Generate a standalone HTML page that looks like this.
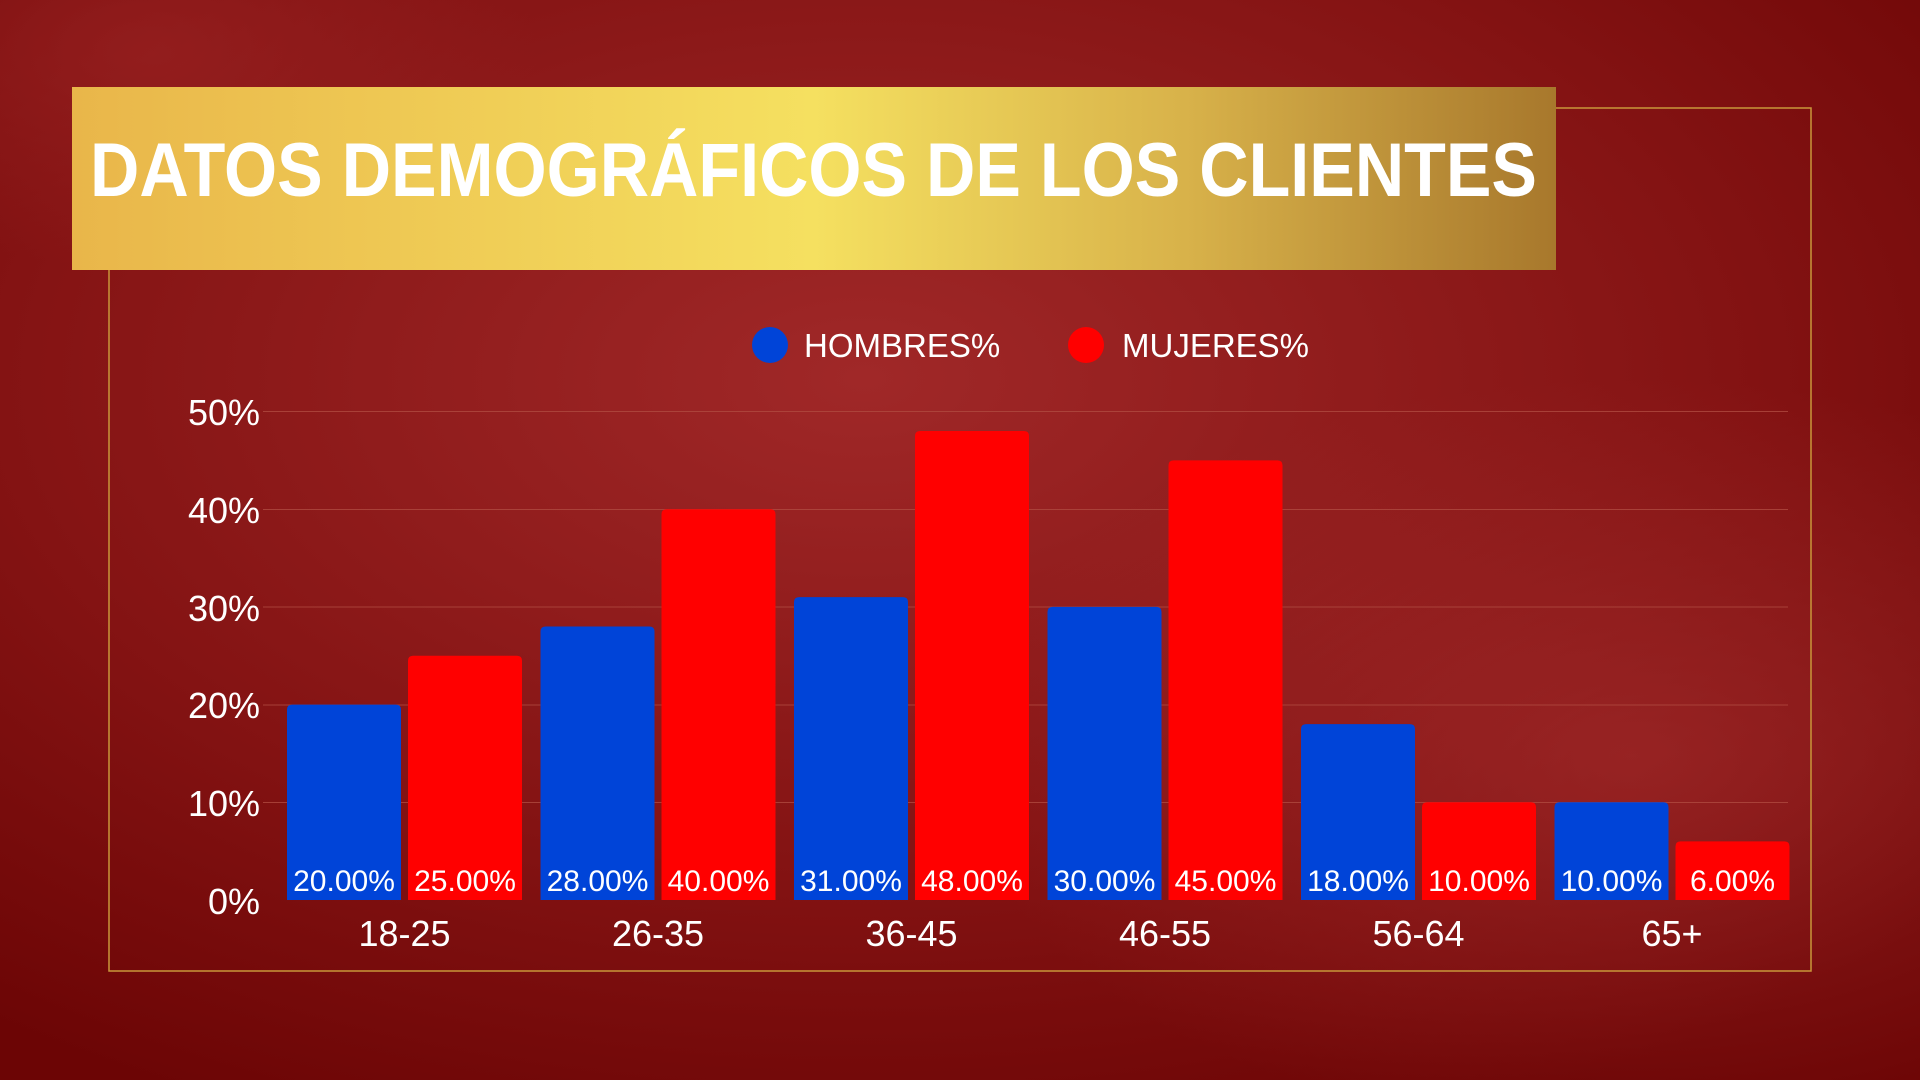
<!DOCTYPE html>
<html><head><meta charset="utf-8"><style>html,body{margin:0;padding:0;width:1920px;height:1080px;overflow:hidden;background:#7a0808}</style></head>
<body>
<svg width="1920" height="1080" viewBox="0 0 1920 1080" xmlns="http://www.w3.org/2000/svg" font-family="Liberation Sans, sans-serif">
<defs>
<radialGradient id="bg" cx="0.45" cy="0.35" r="0.75">
<stop offset="0" stop-color="#a02828"/><stop offset="0.6" stop-color="#841313"/><stop offset="1" stop-color="#6c0505"/>
</radialGradient>
<radialGradient id="bg2" cx="0.85" cy="0.7" r="0.35">
<stop offset="0" stop-color="#a83030" stop-opacity="0.6"/><stop offset="1" stop-color="#a83030" stop-opacity="0"/>
</radialGradient>
<radialGradient id="bg3" cx="0.08" cy="0.05" r="0.2">
<stop offset="0" stop-color="#9a2222" stop-opacity="0.7"/><stop offset="1" stop-color="#9a2222" stop-opacity="0"/>
</radialGradient>
<linearGradient id="gold" x1="0" x2="1" y1="0" y2="0">
<stop offset="0" stop-color="#e9b64a"/><stop offset="0.5" stop-color="#f5e060"/><stop offset="0.75" stop-color="#d8b24a"/><stop offset="1" stop-color="#a8782c"/>
</linearGradient>
</defs>
<rect width="1920" height="1080" fill="url(#bg)"/>
<rect width="1920" height="1080" fill="url(#bg2)"/>
<rect width="1920" height="1080" fill="url(#bg3)"/>
<rect x="109" y="108" width="1702" height="863" fill="none" stroke="#c9973a" stroke-width="1.5"/>
<rect x="72" y="87" width="1484" height="183" fill="url(#gold)"/>
<text x="90" y="196" font-size="76" font-weight="bold" fill="#fff" textLength="1447" lengthAdjust="spacingAndGlyphs">DATOS DEMOGRÁFICOS DE LOS CLIENTES</text>
<circle cx="770" cy="345" r="18" fill="#0044d8"/>
<text x="804" y="357" font-size="33" fill="#fff">HOMBRES%</text>
<circle cx="1086" cy="345" r="18" fill="#ff0000"/>
<text x="1122" y="357" font-size="33" fill="#fff">MUJERES%</text>
<g stroke="#b04a40" stroke-width="1" opacity="0.8">
<line x1="263" x2="1788" y1="411.5" y2="411.5"/>
<line x1="263" x2="1788" y1="509.5" y2="509.5"/>
<line x1="263" x2="1788" y1="607" y2="607"/>
<line x1="263" x2="1788" y1="705" y2="705"/>
<line x1="263" x2="1788" y1="802.5" y2="802.5"/>
</g>
<g font-size="36" fill="#fff" text-anchor="end">
<text x="260" y="425">50%</text>
<text x="260" y="523">40%</text>
<text x="260" y="621">30%</text>
<text x="260" y="718">20%</text>
<text x="260" y="816">10%</text>
<text x="260" y="914">0%</text>
</g>
<g id="bars"></g>
<g font-size="36" fill="#fff" text-anchor="middle" id="xl"></g>
<g font-size="30" fill="#fff" text-anchor="middle" id="vl"></g>
<script>
var H=[20,28,31,30,18,10],M=[25,40,48,45,10,6],L=["18-25","26-35","36-45","46-55","56-64","65+"];
var ns="http://www.w3.org/2000/svg",b=document.getElementById("bars"),xl=document.getElementById("xl"),vl=document.getElementById("vl");
function el(p,t,a,txt){var e=document.createElementNS(ns,t);for(var k in a)e.setAttribute(k,a[k]);if(txt)e.textContent=txt;p.appendChild(e);}
function bar(x,v,c){var h=v*9.77,y=900-h,w=114,r=5;
el(b,"path",{d:"M"+x+" 900V"+(y+r)+"Q"+x+" "+y+" "+(x+r)+" "+y+"H"+(x+w-r)+"Q"+(x+w)+" "+y+" "+(x+w)+" "+(y+r)+"V900Z",fill:c});
el(vl,"text",{x:x+w/2,y:891},v.toFixed(2)+"%");}
for(var i=0;i<6;i++){var x0=287+i*253.5;bar(x0,H[i],"#0044d8");bar(x0+121,M[i],"#ff0000");
el(xl,"text",{x:x0+117.5,y:946},L[i]);}
</script>
</svg>
</body></html>
